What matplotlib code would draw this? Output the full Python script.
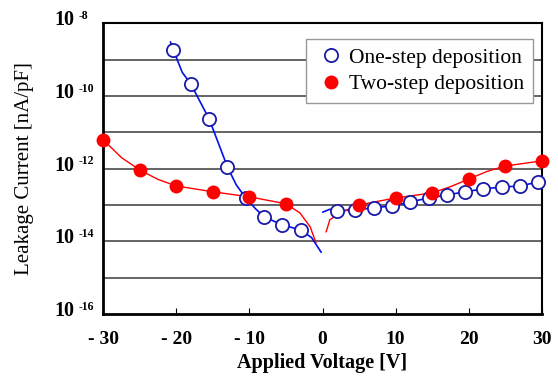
import matplotlib
matplotlib.use("Agg")
import matplotlib.pyplot as plt
import numpy as np

plt.rcParams['font.family'] = ['Liberation Serif', 'DejaVu Serif']

# one-step deposition (markers), log10 of current
one_x = [-20.4, -18, -15.5, -13, -10.5, -8, -5.5, -3,
         2, 4.5, 7, 9.5, 12, 14.5, 17, 19.5, 22, 24.5, 27, 29.5]
one_log = [-8.74, -9.68, -10.64, -11.96, -12.81, -13.33, -13.55, -13.69,
           -13.16, -13.14, -13.08, -13.03, -12.92, -12.81, -12.73, -12.64, -12.56, -12.51, -12.48, -12.37]

# two-step deposition (markers)
two_x = [-30, -25, -20, -15, -10, -5, 5, 10, 15, 20, 25, 30]
two_log = [-11.21, -12.04, -12.48, -12.64, -12.78, -12.97,
           -13.0, -12.81, -12.67, -12.29, -11.93, -11.79]

one_neg_x = [-20.8, -20.4, -19.2, -18, -15.5, -13, -11.8, -10.5, -9.2, -8, -5.5, -3, -1.5, -0.2]
one_neg_log = [-8.52, -8.74, -9.35, -9.68, -10.64, -11.96, -12.45, -12.81, -13.1, -13.33, -13.55, -13.69, -13.9, -14.3]
one_pos_x = [0.05, 1, 2, 4.5, 7, 9.5, 12, 14.5, 17, 19.5, 22, 24.5, 27, 29.5, 30]
one_pos_log = [-13.2, -13.12, -13.16, -13.14, -13.08, -13.03, -12.92, -12.81, -12.73, -12.64, -12.56, -12.51, -12.48, -12.37, -12.36]

two_neg_x = [-30, -27.5, -25, -22.5, -20, -15, -10, -5, -3.1, -1.7, -0.9]
two_neg_log = [-11.21, -11.7, -12.04, -12.3, -12.48, -12.64, -12.78, -12.97, -13.22, -13.6, -14.04]
two_pos_x = [0.5, 1.0, 2.4, 5, 10, 15, 17.5, 20, 22.5, 25, 30]
two_pos_log = [-13.74, -13.41, -13.22, -13.0, -12.81, -12.67, -12.5, -12.29, -12.08, -11.93, -11.79]

x_ticks = [-30, -20, -10, 0, 10, 20, 30]
x_labels = ['- 30', '- 20', '- 10', '0', '10', '20', '30']
y_ticks = [-16, -14, -12, -10, -8]

blue_line = '#0010ee'
blue_mk = '#1a1aa8'
red = '#ff0000'

fig = plt.figure(figsize=(5.58, 3.80), dpi=100)
ax = fig.add_axes([0.185, 0.174, 0.786, 0.765])

for d in range(-15, -8):
    ax.axhline(10.0 ** d, color='#3a3a3a', lw=1.1, zorder=1)

pw = lambda v: 10.0 ** np.array(v)

ax.plot(one_neg_x, pw(one_neg_log), color=blue_line, lw=1.2, zorder=2)
ax.plot(one_pos_x, pw(one_pos_log), color=blue_line, lw=1.2, zorder=2)
ax.plot(two_neg_x, pw(two_neg_log), color=red, lw=1.0, zorder=2)
ax.plot(two_pos_x, pw(two_pos_log), color=red, lw=1.0, zorder=2)

ax.plot(one_x, pw(one_log), 'o', ms=9.5, mfc='white', mec=blue_mk, mew=1.3,
        zorder=3, label='One-step deposition', clip_on=False)
ax.plot(two_x, pw(two_log), 'o', ms=10, mfc=red, mec=red, mew=0,
        zorder=4, label='Two-step deposition', clip_on=False)

ax.set_yscale('log')
ax.set_ylim(1e-16, 1e-8)
ax.set_xlim(-30, 30)

# y tick labels: "10" with a small raised exponent
ax.set_yticks([10.0 ** t for t in y_ticks])
ax.set_yticklabels([])
ax.yaxis.set_minor_locator(matplotlib.ticker.NullLocator())
ax.tick_params(axis='y', length=0)
for t in y_ticks:
    ax.annotate('10', xy=(0, 10.0 ** t), xycoords=('axes fraction', 'data'),
                xytext=(-21, -1.5), textcoords='offset points',
                ha='right', va='baseline', fontsize=14.5, fontweight='bold')
    ax.annotate('-%d' % abs(t), xy=(0, 10.0 ** t), xycoords=('axes fraction', 'data'),
                xytext=(-17.5, 9.5), textcoords='offset points',
                ha='left', va='top', fontsize=8.5, fontweight='bold')

ax.set_xticks(x_ticks)
ax.set_xticklabels(x_labels, fontsize=14, fontweight='bold')
ax.tick_params(axis='x', direction='in', length=4, width=0.8, pad=12)

ax.set_xlabel('Applied Voltage [V]', fontsize=14.5, fontweight='bold', labelpad=4)
ax.set_ylabel('Leakage Current [nA/pF]', fontsize=15, labelpad=46)

for s in ['left', 'bottom']:
    ax.spines[s].set_linewidth(2)
for s in ['top', 'right']:
    ax.spines[s].set_linewidth(1.5)

leg = ax.legend(loc='upper right', bbox_to_anchor=(0.979, 0.945), fontsize=15.5,
                fancybox=False, framealpha=1, edgecolor='#999999',
                handletextpad=0.1, handlelength=1.5, borderpad=0.4,
                labelspacing=0.3, borderaxespad=0)
leg.get_frame().set_linewidth(1.0)

fig.savefig('out.png', dpi=100)
